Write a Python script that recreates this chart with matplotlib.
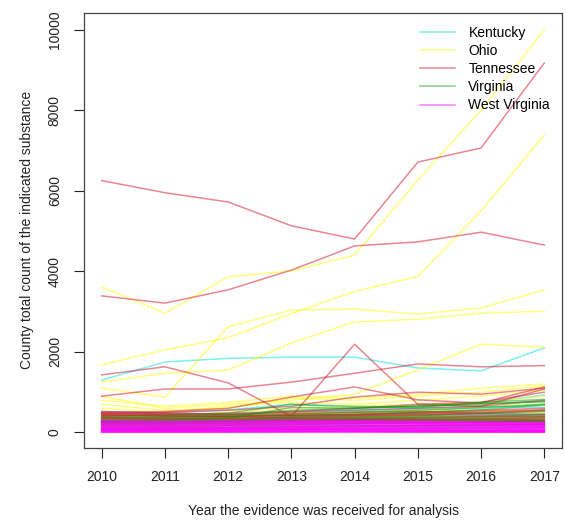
import matplotlib
matplotlib.use("Agg")
import matplotlib.pyplot as plt

plt.rcParams['font.family'] = ['Liberation Sans', 'DejaVu Sans']

years = [2010, 2011, 2012, 2013, 2014, 2015, 2016, 2017]
states = ["Kentucky", "Ohio", "Tennessee", "Virginia", "West Virginia"]
state_colors = {"Kentucky": "#00E0E0", "Ohio": "#FFFF00", "Tennessee": "#D0102A",
                "Virginia": "#119911", "West Virginia": "#FF00FF"}

kentucky = [
    [1300, 1750, 1840, 1870, 1870, 1600, 1530, 2100],
    [520, 480, 560, 700, 620, 650, 730, 930],
    [300, 350, 420, 480, 520, 560, 600, 700],
    [200, 240, 260, 300, 330, 380, 420, 450],
    [150, 160, 180, 200, 210, 240, 260, 280],
    [100, 120, 130, 150, 170, 160, 180, 200],
    [60, 70, 80, 90, 100, 110, 120, 130],
    [420, 400, 450, 520, 560, 600, 650, 620],
    [250, 230, 280, 350, 400, 420, 470, 520],
]
ohio = [
    [3610, 2960, 3860, 4010, 4400, 6260, 8000, 9990],
    [1680, 2050, 2350, 2950, 3500, 3870, 5500, 7380],
    [1100, 880, 2620, 3040, 3060, 2940, 3090, 3540],
    [1250, 1470, 1550, 2220, 2740, 2810, 2960, 3010],
    [900, 600, 700, 800, 950, 1550, 2190, 2120],
    [800, 650, 750, 900, 850, 950, 1100, 1200],
    [600, 500, 650, 750, 700, 800, 900, 1050],
    [450, 400, 500, 600, 650, 700, 750, 900],
    [350, 300, 380, 450, 500, 550, 650, 700],
    [250, 220, 300, 350, 400, 420, 500, 550],
    [150, 180, 200, 230, 250, 300, 330, 380],
    [700, 550, 600, 850, 800, 900, 1000, 1150],
    [400, 350, 420, 500, 480, 520, 560, 480],
    [300, 280, 320, 380, 350, 400, 380, 300],
]
tennessee = [
    [6250, 5950, 5720, 5130, 4800, 6710, 7060, 9170],
    [3390, 3210, 3540, 4030, 4630, 4730, 4970, 4650],
    [1430, 1630, 1230, 400, 2190, 700, 650, 1080],
    [900, 1080, 1080, 1250, 1470, 1700, 1630, 1660],
    [500, 520, 600, 880, 1130, 810, 730, 1130],
    [450, 500, 550, 650, 880, 1000, 950, 1100],
    [400, 450, 480, 520, 600, 700, 750, 1000],
    [520, 480, 450, 500, 550, 600, 650, 800],
    [350, 380, 400, 420, 450, 500, 550, 600],
    [300, 320, 350, 380, 420, 450, 480, 550],
    [250, 260, 280, 300, 320, 350, 380, 400],
    [200, 220, 230, 250, 280, 300, 320, 350],
    [150, 160, 180, 200, 220, 240, 260, 300],
    [100, 110, 120, 140, 150, 170, 180, 200],
    [480, 460, 440, 460, 500, 520, 480, 450],
    [440, 420, 400, 420, 430, 460, 440, 420],
    [420, 400, 380, 380, 400, 420, 400, 380],
    [380, 360, 350, 360, 370, 380, 350, 330],
    [360, 340, 330, 340, 350, 340, 320, 300],
    [330, 320, 310, 320, 330, 320, 300, 280],
    [470, 430, 400, 430, 450, 480, 520, 560],
    [280, 270, 280, 300, 310, 300, 280, 260],
]
virginia = [
    [400, 420, 480, 700, 650, 620, 750, 820],
    [350, 380, 420, 550, 600, 650, 700, 780],
    [300, 320, 380, 450, 500, 550, 620, 700],
    [250, 280, 300, 350, 380, 420, 480, 520],
    [200, 210, 250, 280, 300, 320, 350, 380],
    [150, 160, 180, 200, 230, 250, 260, 280],
    [100, 110, 120, 140, 160, 170, 180, 200],
    [60, 70, 80, 90, 100, 110, 120, 130],
    [280, 300, 350, 620, 600, 660, 720, 760],
    [260, 270, 300, 400, 450, 500, 560, 680],
    [270, 260, 280, 320, 350, 380, 400, 450],
    [240, 230, 250, 270, 280, 300, 310, 320],
    [220, 210, 220, 240, 250, 260, 250, 240],
]
west_virginia = [
    [300, 280, 290, 310, 300, 280, 260, 250],
    [280, 270, 280, 290, 280, 270, 250, 230],
    [260, 250, 260, 270, 270, 250, 230, 220],
    [250, 240, 250, 260, 270, 250, 230, 220],
    [230, 220, 230, 240, 250, 240, 220, 200],
    [215, 205, 215, 225, 230, 220, 200, 190],
    [200, 190, 210, 220, 230, 210, 200, 180],
    [185, 180, 190, 200, 210, 200, 185, 170],
    [170, 160, 170, 180, 190, 180, 170, 150],
    [155, 150, 160, 170, 175, 165, 155, 140],
    [140, 130, 140, 150, 160, 150, 140, 130],
    [125, 120, 130, 135, 145, 135, 125, 115],
    [110, 100, 110, 120, 130, 120, 110, 100],
    [100, 95, 100, 110, 115, 105, 95, 85],
    [90, 80, 90, 100, 100, 90, 80, 80],
    [80, 75, 80, 90, 90, 80, 70, 65],
    [70, 60, 70, 80, 80, 70, 60, 60],
    [60, 55, 60, 70, 70, 60, 55, 50],
    [50, 45, 50, 60, 60, 50, 45, 40],
    [40, 40, 45, 50, 50, 45, 40, 35],
    [30, 30, 35, 40, 40, 35, 30, 25],
    [22, 22, 25, 30, 30, 25, 22, 20],
    [15, 15, 20, 20, 25, 20, 15, 15],
    [10, 10, 12, 15, 15, 12, 10, 10],
    [5, 5, 5, 10, 10, 8, 5, 5],
]
series = {"Kentucky": kentucky, "Ohio": ohio, "Tennessee": tennessee,
          "Virginia": virginia, "West Virginia": west_virginia}

fig = plt.figure(figsize=(5.66, 5.25), dpi=100)
ax = fig.add_axes([84/566, 1-448/525, (562-84)/566, (448-12.7)/525])

for st in states:
    for vals in series[st]:
        ax.plot(years, vals, color=state_colors[st], alpha=0.5, lw=1.1)

ax.set_xlim(2009.72, 2017.28)
ax.set_ylim(-385, 10417)
ax.set_xticks(years)
ax.set_yticks([0, 2000, 4000, 6000, 8000, 10000])
ax.set_yticklabels(["0", "2000", "4000", "6000", "8000", "10000"], rotation=90, va='center')
ax.tick_params(axis='both', direction='out', length=7, width=0.8, labelsize=10, colors='#222222')
ax.tick_params(axis='x', pad=9)
ax.tick_params(axis='y', pad=9)
for sp in ax.spines.values():
    sp.set_color('#444444')
    sp.set_linewidth(0.9)

ax.set_xlabel("Year the evidence was received for analysis", fontsize=10, color='#222222', labelpad=14)
ax.set_ylabel("County total count of the indicated substance", fontsize=10, color='#222222', labelpad=10)

handles = [plt.Line2D([], [], color=state_colors[s], alpha=0.5, lw=1.1) for s in states]
ax.legend(handles, states, loc='upper left', bbox_to_anchor=(0.688, 0.986), frameon=False,
          fontsize=10, handlelength=2.5, labelspacing=0.3, borderpad=0, handletextpad=1.0)

fig.savefig("out.png", dpi=100)
